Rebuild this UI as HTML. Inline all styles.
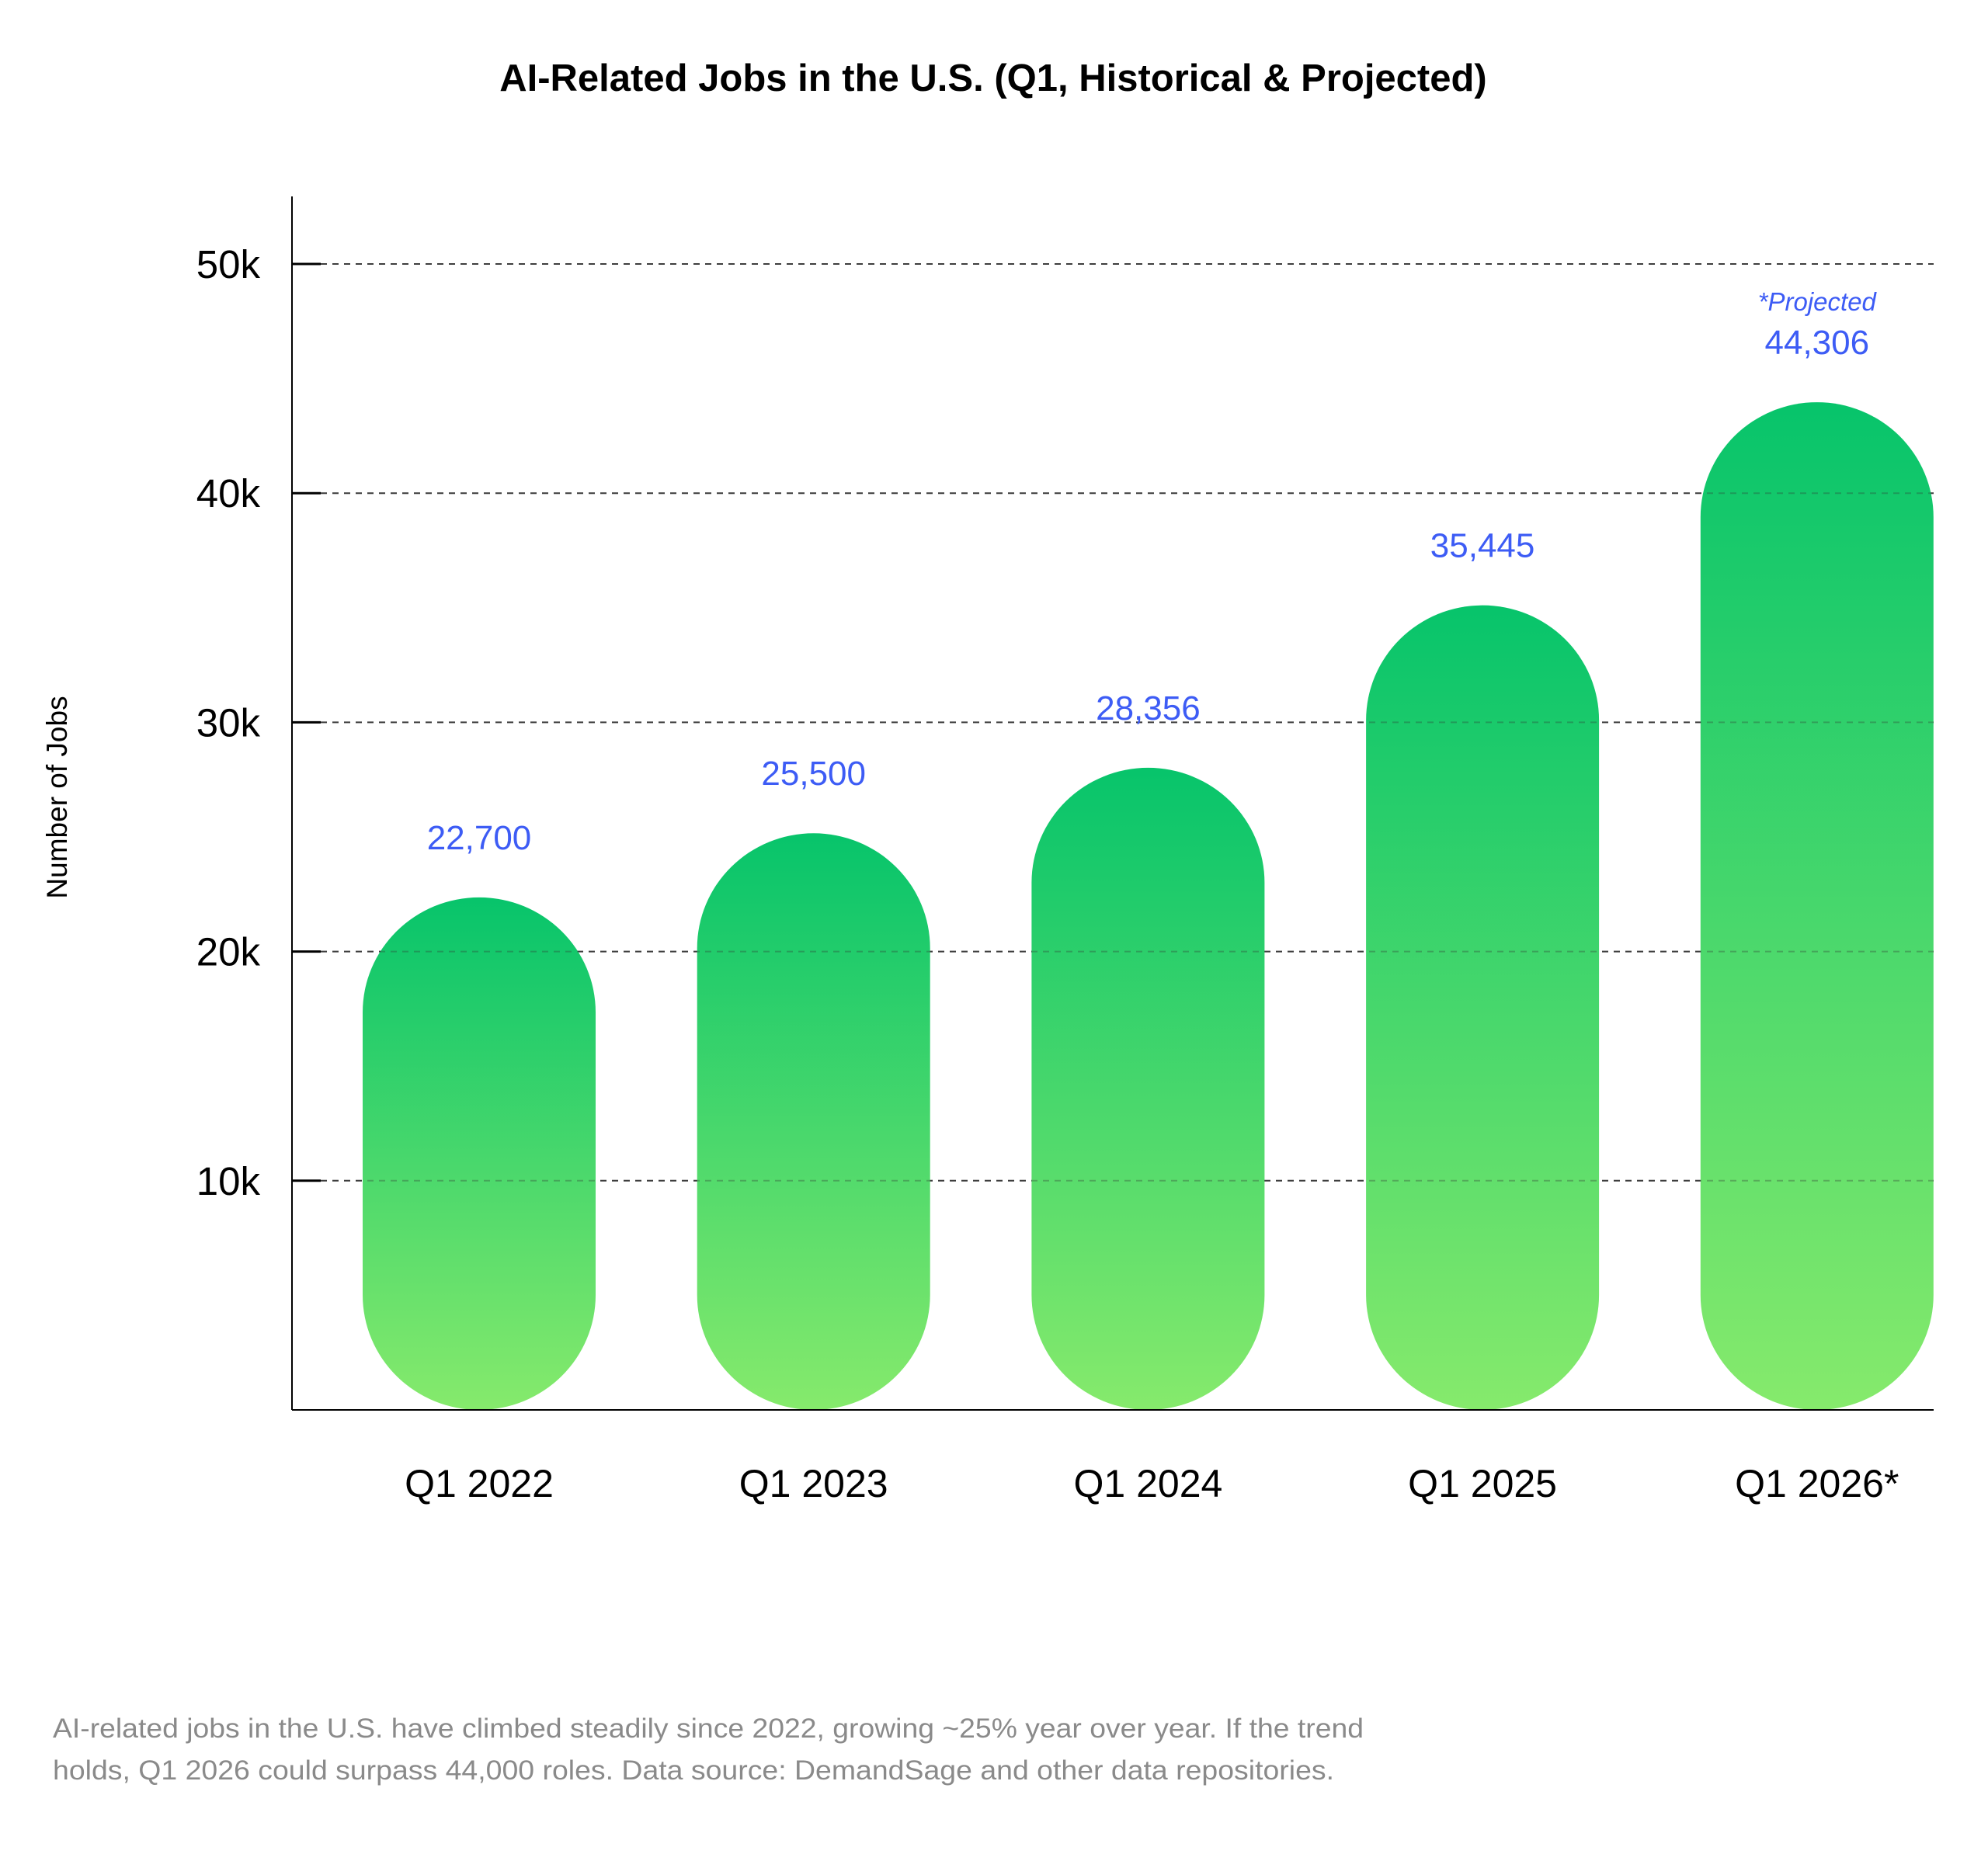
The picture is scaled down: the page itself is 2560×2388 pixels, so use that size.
<!DOCTYPE html>
<html><head><meta charset="utf-8"><style>
html,body{margin:0;padding:0;background:#fff}
svg{display:block;font-family:"Liberation Sans",sans-serif}
</style></head><body>
<svg id="chart" width="2560" height="2388" viewBox="0 0 2560 2388" xmlns="http://www.w3.org/2000/svg">
<defs>
<linearGradient id="barGrad" x1="0" y1="0" x2="0" y2="1">
<stop offset="0" stop-color="#07c46b"/><stop offset="1" stop-color="#86ea6c"/>
</linearGradient>
</defs>
<rect width="2560" height="2388" fill="#fff"/>
<text x="1279" y="117" text-anchor="middle" font-size="49" font-weight="bold" fill="#000">AI-Related Jobs in the U.S. (Q1, Historical &amp; Projected)</text>
<text transform="translate(86,1027) rotate(-90)" text-anchor="middle" font-size="37" fill="#000">Number of Jobs</text>
<g id="grid"></g>
<g id="bars"></g>
<g id="gridOver"></g>
<g id="axes"></g>
<g id="labels"></g>
<text x="68" y="2238" font-size="35" fill="#8a8a8a" textLength="1688" lengthAdjust="spacingAndGlyphs">AI-related jobs in the U.S. have climbed steadily since 2022, growing ~25% year over year. If the trend</text>
<text x="68" y="2292" font-size="35" fill="#8a8a8a" textLength="1650" lengthAdjust="spacingAndGlyphs">holds, Q1 2026 could surpass 44,000 roles. Data source: DemandSage and other data repositories.</text>
</svg>
<script>
const categories = ["Q1 2022","Q1 2023","Q1 2024","Q1 2025","Q1 2026*"];
const values = [22700, 25500, 28356, 35445, 44306];
const valueLabels = ["22,700","25,500","28,356","35,445","44,306"];
const yTicks = [10000, 20000, 30000, 40000, 50000];
const yTickLabels = ["10k","20k","30k","40k","50k"];

const NS = "http://www.w3.org/2000/svg";
const x0 = 376, x1 = 2490, yBase = 1816, yTopAxis = 253;
function y(v){ return yBase - v * (1816 - 340) / 50000; }
function xc(i){ return 617 + i * 430.7; }
const barW = 300;
function mk(tag, attrs, parent){ const e = document.createElementNS(NS, tag); for (const k in attrs) e.setAttribute(k, attrs[k]); parent.appendChild(e); return e; }

const grid = document.getElementById('grid');
const gridOver = document.getElementById('gridOver');
const axes = document.getElementById('axes');
const bars = document.getElementById('bars');
const labels = document.getElementById('labels');

yTicks.forEach((t, i) => {
  const g = mk('line', {x1: 413, x2: x1, y1: y(t), y2: y(t), stroke: '#444', 'stroke-width': 2, 'stroke-dasharray': '8 7'}, grid);
  
  
  const go = mk('line', {x1: 413, x2: x1, y1: y(t), y2: y(t), stroke: '#333', 'stroke-width': 2, 'stroke-dasharray': '8 7', opacity: 0.3}, gridOver);
  
  
  const tk = mk('line', {x1: x0, x2: 413, y1: y(t), y2: y(t), stroke: '#000', 'stroke-width': 3}, axes);
  
  
  const tl = mk('text', {x: 335, y: y(t) + 18, 'text-anchor': 'end', 'font-size': 51, fill: '#000'}, axes);
  tl.textContent = yTickLabels[i];
  
  
});

const ya = mk('line', {x1: x0, x2: x0, y1: yTopAxis, y2: yBase, stroke: '#000', 'stroke-width': 2}, axes);


const xa = mk('line', {x1: x0, x2: x1, y1: yBase, y2: yBase, stroke: '#000', 'stroke-width': 2}, axes);



values.forEach((v, i) => {
  const cx = xc(i), top = y(v) + 10, r = barW / 2;
  const h = yBase - top;
  const b = mk('rect', {x: cx - r, y: top, width: barW, height: h, rx: r, ry: Math.min(148, h / 2), fill: 'url(#barGrad)'}, bars);
  
  
  const vl = mk('text', {x: cx, y: top - 62, 'text-anchor': 'middle', 'font-size': 44, fill: '#3d5cf5'}, labels);
  vl.textContent = valueLabels[i];
  
  
  const cl = mk('text', {x: cx, y: 1928, 'text-anchor': 'middle', 'font-size': 50, fill: '#000'}, labels);
  cl.textContent = categories[i];
  
  
  if (i === values.length - 1) {
    const pl = mk('text', {x: cx, y: top - 118, 'text-anchor': 'middle', 'font-size': 33, 'font-style': 'italic', fill: '#3d5cf5'}, labels);
    pl.textContent = '*Projected';
    
    
  }
});
</script>
</body></html>
